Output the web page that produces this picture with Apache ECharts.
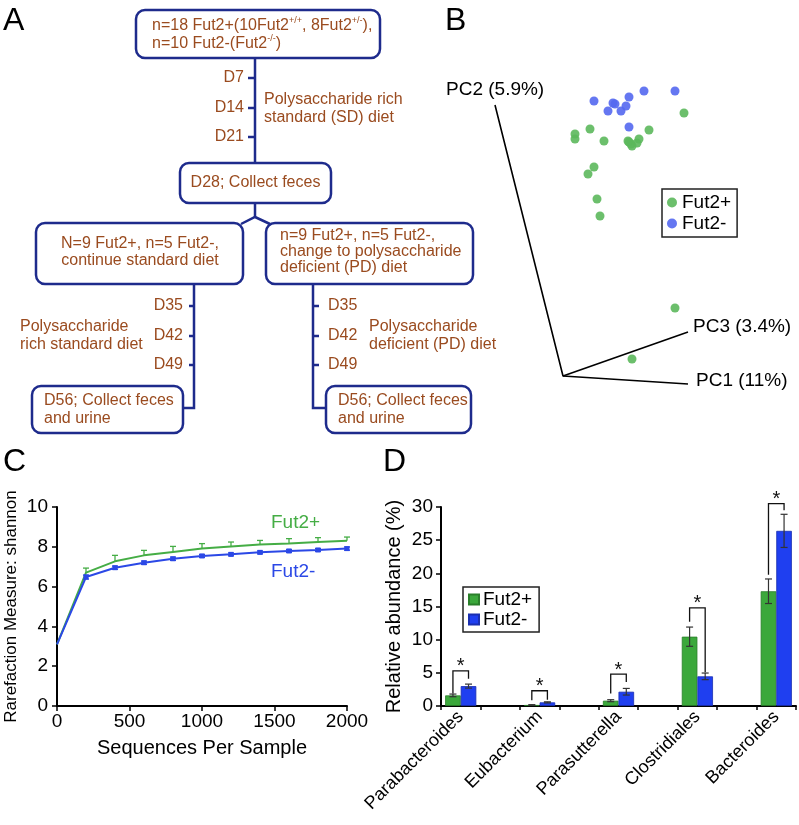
<!DOCTYPE html>
<html>
<head>
<meta charset="utf-8">
<script src="https://cdn.jsdelivr.net/npm/echarts@6/dist/echarts.min.js"></script>
<style>
html, body { margin: 0; padding: 0; background: #fff; }
#fig { width: 799px; height: 825px; }
</style>
</head>
<body>
<div id="fig"></div>
<script>
// ---- panel B: PCoA points (projected units, origin = axes origin)
var pcPlus = [[12.1, 26.3], [1.2, 24.2], [1.2, 23.7], [2.7, 24.7], [4.1, 23.5], [6.6, 23.4],
    [6.8, 23.2], [6.9, 23.0], [7.4, 23.3], [7.6, 23.7], [8.6, 24.6], [6.5, 23.5],
    [3.1, 20.9], [2.5, 20.2], [3.4, 17.7], [3.7, 16.0], [11.2, 6.8], [6.9, 1.7]];
var pcMinus = [[3.1, 27.5], [5.0, 27.3], [5.2, 27.2], [6.6, 27.9], [8.1, 28.5], [11.2, 28.5],
    [4.5, 26.5], [5.8, 26.5], [6.3, 27.0], [6.6, 24.9]];
var pcAxisMain = [[-6.8, 27.1], [0, 0], [12.5, -0.8]];   // PC2 end - origin - PC1 end
var pcAxisThird = [[0, 0], [12.5, 4.4]];                 // origin - PC3 end

// ---- panel C: rarefaction (shannon)
var seqDepth = [0, 200, 400, 600, 800, 1000, 1200, 1400, 1600, 1800, 2000];
var shannonPlus = [3.1, 6.70, 7.27, 7.57, 7.74, 7.91, 8.02, 8.11, 8.17, 8.24, 8.31];
var shannonPlusErr = [0, 0.23, 0.30, 0.25, 0.28, 0.25, 0.22, 0.21, 0.24, 0.22, 0.18];
var shannonMinus = [3.1, 6.48, 6.95, 7.20, 7.40, 7.54, 7.62, 7.72, 7.79, 7.84, 7.91];
var shannonMinusErr = [0, 0.10, 0.08, 0.08, 0.08, 0.07, 0.07, 0.07, 0.07, 0.07, 0.08];

// ---- panel D: relative abundance (empty slots between taxa, like the original)
var taxa = ['Parabacteroides', '', 'Eubacterium', '', 'Parasutterella', '', 'Clostridiales', '', 'Bacteroides'];
var abundPlus = [1.6, null, 0.15, null, 0.8, null, 10.45, null, 17.3];
var abundPlusErr = [0.2, null, 0.05, null, 0.15, null, 1.45, null, 1.85];
var abundMinus = [3.0, null, 0.55, null, 2.15, null, 4.47, null, 26.4];
var abundMinusErr = [0.3, null, 0.08, null, 0.5, null, 0.5, null, 2.5];
// [slot, bracket top, left leg end, right leg end]
var sigBrackets = [[0, 5.3, 1.9, 4.1], [2, 2.3, 0.85, 0.95], [4, 4.8, 1.9, 3.6], [6, 14.8, 12.7, 5.1], [8, 30.5, 19.8, 29.5]];

var FONT = '"Liberation Sans", Arial, sans-serif';
var NAVY = '#1e2b8c', BROWN = '#9a4b1f';
var GREEN_B = '#5cb85c', BLUE_B = '#5468f0';
var GREEN_C = '#45ad45', BLUE_C = '#2b48e6';
var GREEN_D = '#3ba83b', BLUE_D = '#1f3ff0';
var CAT_GAP = 0.21;

var chart = echarts.init(document.getElementById('fig'), null, { renderer: 'canvas' });

// ---------- graphic helpers (flowchart, panel letters, labels)
var ctx = document.createElement('canvas').getContext('2d');
function tw(s, size) { ctx.font = size + 'px ' + FONT; return ctx.measureText(s).width; }
var g = [];
function box(x, y, w, h) {
    g.push({ type: 'rect', shape: { x: x, y: y, width: w, height: h, r: 9 }, style: { fill: '#fff', stroke: NAVY, lineWidth: 2.5 }, z: 10 });
}
function path(pts) {
    g.push({ type: 'polyline', shape: { points: pts }, style: { stroke: NAVY, lineWidth: 2.5, fill: null }, z: 9 });
}
function txt(x, y, s, size, color, align) {
    g.push({ type: 'text', x: x, y: y, z: 11,
        style: { text: s, fill: color, font: size + 'px ' + FONT, textAlign: align || 'left', textVerticalAlign: 'middle' } });
}
// text with superscripts: parts = [[str, isSup], ...]
function supTxt(x, y, parts) {
    var cx = x;
    parts.forEach(function (p) {
        if (p[1]) { txt(cx, y - 5, p[0], 9, BROWN); cx += tw(p[0], 9); }
        else { txt(cx, y, p[0], 16, BROWN); cx += tw(p[0], 16); }
    });
}

// panel letters
txt(3, 21, 'A', 32, '#000');
txt(445, 21, 'B', 32, '#000');
txt(3, 462, 'C', 32, '#000');
txt(383, 462, 'D', 32, '#000');

// ---- panel A flowchart
path([[255, 58], [255, 163]]);
[78, 108, 137].forEach(function (y) { path([[248, y], [255, y]]); });
box(136, 10, 244, 48);
supTxt(152, 26, [['n=18 Fut2+(10Fut2', 0], ['+/+', 1], [', 8Fut2', 0], ['+/-', 1], ['),', 0]]);
supTxt(152, 44, [['n=10 Fut2-(Fut2', 0], ['-/-', 1], [')', 0]]);
txt(244, 78, 'D7', 16, BROWN, 'right');
txt(244, 108, 'D14', 16, BROWN, 'right');
txt(244, 137, 'D21', 16, BROWN, 'right');
txt(264, 100, 'Polysaccharide rich', 16, BROWN);
txt(264, 118, 'standard (SD) diet', 16, BROWN);

box(180, 163, 151, 40);
txt(255.5, 183, 'D28; Collect feces', 16, BROWN, 'center');
path([[255, 203], [255, 217]]);
path([[241, 224], [255, 217], [270, 224]]);

// left branch
path([[194, 284], [194, 408], [183, 408]]);
[306, 336, 365].forEach(function (y) { path([[189, y], [194, y]]); });
box(36, 223, 207, 61);
txt(140, 244, 'N=9 Fut2+, n=5 Fut2-,', 16, BROWN, 'center');
txt(140, 261, 'continue standard diet', 16, BROWN, 'center');
txt(183, 306, 'D35', 16, BROWN, 'right');
txt(183, 336, 'D42', 16, BROWN, 'right');
txt(183, 365, 'D49', 16, BROWN, 'right');
txt(20, 327, 'Polysaccharide', 16, BROWN);
txt(20, 345, 'rich standard diet', 16, BROWN);
box(32, 386, 151, 47);
txt(44, 401, 'D56; Collect feces', 16, BROWN);
txt(44, 419, 'and urine', 16, BROWN);

// right branch
path([[313, 284], [313, 408], [326, 408]]);
[306, 336, 365].forEach(function (y) { path([[313, y], [319, y]]); });
box(266, 223, 207, 61);
txt(280, 236, 'n=9 Fut2+, n=5 Fut2-,', 16, BROWN);
txt(280, 252, 'change to polysaccharide', 16, BROWN);
txt(280, 268, 'deficient (PD) diet', 16, BROWN);
txt(328, 306, 'D35', 16, BROWN);
txt(328, 336, 'D42', 16, BROWN);
txt(328, 365, 'D49', 16, BROWN);
txt(369, 327, 'Polysaccharide', 16, BROWN);
txt(369, 345, 'deficient (PD) diet', 16, BROWN);
box(326, 386, 145, 47);
txt(338, 401, 'D56; Collect feces', 16, BROWN);
txt(338, 419, 'and urine', 16, BROWN);

// ---- panel B axis labels
txt(446, 90, 'PC2 (5.9%)', 19, '#000');
txt(693, 327, 'PC3 (3.4%)', 19, '#000');
txt(696, 381, 'PC1 (11%)', 19, '#000');

// ---- panel C inline labels
txt(271, 523, 'Fut2+', 19, GREEN_C);
txt(271, 572, 'Fut2-', 19, BLUE_C);

// ---------- series helpers
function errC(color, upOnly) {
    return function (params, api) {
        var x = api.value(0), y = api.value(1), e = api.value(2);
        var hi = api.coord([x, y + e]);
        var lo = api.coord([x, upOnly ? y : y - e]);
        var st = { stroke: color, lineWidth: 1.3 };
        var kids = [
            { type: 'line', shape: { x1: hi[0], y1: hi[1], x2: lo[0], y2: lo[1] }, style: st },
            { type: 'line', shape: { x1: hi[0] - 3, y1: hi[1], x2: hi[0] + 3, y2: hi[1] }, style: st }
        ];
        if (!upOnly) kids.push({ type: 'line', shape: { x1: lo[0] - 3, y1: lo[1], x2: lo[0] + 3, y2: lo[1] }, style: st });
        return { type: 'group', children: kids };
    };
}
function errD(side) {
    return function (params, api) {
        var cat = api.value(0), y = api.value(1), e = api.value(2);
        var band = api.size([1, 0])[0];
        var shift = side * band * (1 - CAT_GAP) / 4;
        var hi = api.coord([cat, y + e]);
        var lo = api.coord([cat, Math.max(0, y - e)]);
        var x = hi[0] + shift;
        var st = { stroke: '#333', lineWidth: 1.2 };
        return { type: 'group', children: [
            { type: 'line', shape: { x1: x, y1: hi[1], x2: x, y2: lo[1] }, style: st },
            { type: 'line', shape: { x1: x - 3.5, y1: hi[1], x2: x + 3.5, y2: hi[1] }, style: st },
            { type: 'line', shape: { x1: x - 3.5, y1: lo[1], x2: x + 3.5, y2: lo[1] }, style: st }
        ] };
    };
}
function bracketD(params, api) {
    var cat = api.value(0);
    var band = api.size([1, 0])[0];
    var off = band * (1 - CAT_GAP) / 4;
    var top = api.coord([cat, api.value(1)]);
    var yl = api.coord([cat, api.value(2)])[1];
    var yr = api.coord([cat, api.value(3)])[1];
    var xl = top[0] - off, xr = top[0] + off;
    return { type: 'group', children: [
        { type: 'polyline', shape: { points: [[xl, yl], [xl, top[1]], [xr, top[1]], [xr, yr]] }, style: { stroke: '#111', lineWidth: 1.3, fill: null } },
        { type: 'text', x: (xl + xr) / 2, y: top[1] - 4, style: { text: '*', fill: '#111', font: '20px ' + FONT, textAlign: 'center', textVerticalAlign: 'middle' } }
    ] };
}

function pairs(xs, ys) { return xs.map(function (x, i) { return [x, ys[i]]; }); }
function triples(xs, ys, es) {
    var out = [];
    xs.forEach(function (x, i) { if (ys[i] != null && es[i]) out.push([x, ys[i], es[i]]); });
    return out;
}
var slotIdx = taxa.map(function (t, i) { return i; });

var axisBlack = { lineStyle: { color: '#000', width: 2 } };
var tickOut = { show: true, inside: false, length: 5, lineStyle: { color: '#000', width: 1.5 } };

var option = {
    animation: false,
    backgroundColor: '#fff',
    textStyle: { fontFamily: FONT },
    graphic: { elements: g },
    legend: [{
        data: ['B Fut2+', 'B Fut2-'],
        formatter: function (n) { return n.slice(2); },
        orient: 'vertical', left: 662, top: 189,
        icon: 'circle', itemWidth: 10, itemHeight: 10, itemGap: 2,
        padding: [4, 6, 4, 5],
        borderColor: '#222', borderWidth: 1.5,
        textStyle: { fontSize: 19, color: '#000', padding: [0, 0, 0, 0] },
        selectedMode: false
    }, {
        data: ['D Fut2+', 'D Fut2-'],
        formatter: function (n) { return n.slice(2); },
        orient: 'vertical', left: 463, top: 587,
        icon: 'rect', itemWidth: 10, itemHeight: 10, itemGap: 1,
        padding: [3, 7, 3, 5],
        borderColor: '#222', borderWidth: 1.5,
        textStyle: { fontSize: 19, color: '#000', padding: [0, 0, 0, -1] },
        selectedMode: false
    }],
    grid: [
        { left: 420, top: 0, width: 379, height: 400 },
        { left: 57, top: 507, width: 290, height: 199 },
        { left: 441, top: 507, width: 355, height: 199 }
    ],
    xAxis: [
        { gridIndex: 0, type: 'value', min: -14.3, max: 23.6, show: false },
        { gridIndex: 1, type: 'value', min: 0, max: 2000, interval: 500,
          axisLine: axisBlack, axisTick: tickOut, splitLine: { show: false },
          axisLabel: { fontSize: 19, color: '#000', margin: 6, formatter: function (v) { return String(v); } },
          name: 'Sequences Per Sample', nameLocation: 'middle', nameGap: 32,
          nameTextStyle: { fontSize: 20, color: '#000' } },
        { gridIndex: 2, type: 'category', data: taxa,
          axisLine: axisBlack,
          axisTick: { show: true, inside: false, length: 4, interval: 0, lineStyle: { color: '#000', width: 1.5 } },
          axisLabel: { interval: 0, rotate: 45, fontSize: 18, color: '#000', margin: 8 } }
    ],
    yAxis: [
        { gridIndex: 0, type: 'value', min: -2.4, max: 37.6, show: false },
        { gridIndex: 1, type: 'value', min: 0, max: 10, interval: 2,
          axisLine: { show: true, lineStyle: { color: '#000', width: 2 } }, axisTick: tickOut, splitLine: { show: false },
          axisLabel: { fontSize: 19, color: '#000', margin: 9 },
          name: 'Rarefaction Measure: shannon', nameLocation: 'middle', nameGap: 37,
          nameTextStyle: { fontSize: 17, color: '#000' } },
        { gridIndex: 2, type: 'value', min: 0, max: 30, interval: 5,
          axisLine: { show: true, lineStyle: { color: '#000', width: 2 } }, axisTick: tickOut, splitLine: { show: false },
          axisLabel: { fontSize: 19, color: '#000', margin: 8 },
          name: 'Relative abundance (%)', nameLocation: 'middle', nameGap: 37,
          nameTextStyle: { fontSize: 20, color: '#000' } }
    ],
    series: [
        // panel B
        { name: 'pcAxes', type: 'line', xAxisIndex: 0, yAxisIndex: 0, data: pcAxisMain, symbol: 'none', silent: true,
          lineStyle: { color: '#000', width: 1.6 }, z: 1 },
        { name: 'pcAxes3', type: 'line', xAxisIndex: 0, yAxisIndex: 0, data: pcAxisThird, symbol: 'none', silent: true,
          lineStyle: { color: '#000', width: 1.6 }, z: 1 },
        { name: 'B Fut2+', type: 'scatter', xAxisIndex: 0, yAxisIndex: 0, data: pcPlus, symbolSize: 9,
          itemStyle: { color: GREEN_B, opacity: 0.9 } },
        { name: 'B Fut2-', type: 'scatter', xAxisIndex: 0, yAxisIndex: 0, data: pcMinus, symbolSize: 9,
          itemStyle: { color: BLUE_B, opacity: 0.9 } },
        // panel C
        { name: 'C Fut2+', type: 'line', xAxisIndex: 1, yAxisIndex: 1, data: pairs(seqDepth, shannonPlus),
          symbol: 'none', lineStyle: { color: GREEN_C, width: 2 }, z: 3 },
        { name: 'C Fut2-', type: 'line', xAxisIndex: 1, yAxisIndex: 1,
          data: pairs(seqDepth, shannonMinus).map(function (p, i) { return i === 0 ? { value: p, symbol: 'none' } : p; }),
          symbol: 'rect', symbolSize: 5, showSymbol: true,
          itemStyle: { color: BLUE_C }, lineStyle: { color: BLUE_C, width: 2 }, z: 4 },
        { name: 'C err+', type: 'custom', xAxisIndex: 1, yAxisIndex: 1, data: triples(seqDepth, shannonPlus, shannonPlusErr),
          renderItem: errC(GREEN_C, true), silent: true, z: 3 },
        { name: 'C err-', type: 'custom', xAxisIndex: 1, yAxisIndex: 1, data: triples(seqDepth, shannonMinus, shannonMinusErr),
          renderItem: errC(BLUE_C, false), silent: true, z: 4 },
        // panel D
        { name: 'D Fut2+', type: 'bar', xAxisIndex: 2, yAxisIndex: 2, data: abundPlus,
          barGap: '0%', barCategoryGap: (CAT_GAP * 100) + '%',
          itemStyle: { color: GREEN_D, borderColor: '#2a7f2a', borderWidth: 0.8 } },
        { name: 'D Fut2-', type: 'bar', xAxisIndex: 2, yAxisIndex: 2, data: abundMinus,
          barGap: '0%', barCategoryGap: (CAT_GAP * 100) + '%',
          itemStyle: { color: BLUE_D, borderColor: '#1a2fb0', borderWidth: 0.8 } },
        { name: 'D err+', type: 'custom', xAxisIndex: 2, yAxisIndex: 2, data: triples(slotIdx, abundPlus, abundPlusErr),
          renderItem: errD(-1), silent: true, z: 5 },
        { name: 'D err-', type: 'custom', xAxisIndex: 2, yAxisIndex: 2, data: triples(slotIdx, abundMinus, abundMinusErr),
          renderItem: errD(1), silent: true, z: 5 },
        { name: 'D sig', type: 'custom', xAxisIndex: 2, yAxisIndex: 2, data: sigBrackets,
          renderItem: bracketD, silent: true, z: 6 }
    ]
};
chart.setOption(option);
</script>
</body>
</html>
